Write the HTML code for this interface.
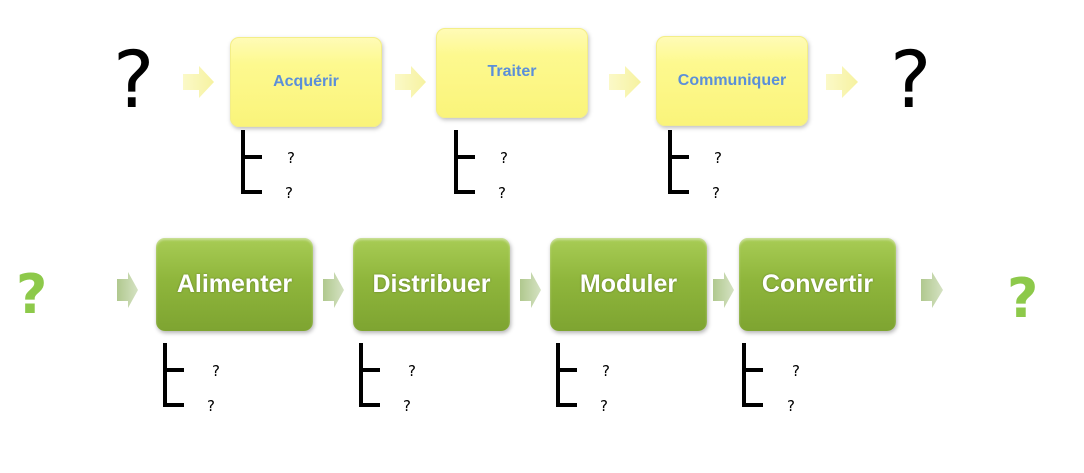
<!DOCTYPE html>
<html><head><meta charset="utf-8"><style>
body{margin:0;width:1084px;height:473px;background:#fff;position:relative;overflow:hidden;font-family:"DejaVu Sans","Liberation Sans",sans-serif}
.a{position:absolute}
.y{position:absolute;width:152px;height:90px;border-radius:9px;background:linear-gradient(#fffbb8,#fdf98f 30%,#faf47a);box-shadow:1px 2px 4px rgba(0,0,0,.25), inset 0 0 0 1px #f3ee88;display:flex;align-items:center;justify-content:center;color:#5b8fd9;font-weight:bold;font-size:16px;font-family:"Liberation Sans",sans-serif}
.g{position:absolute;width:157px;height:93px;border-radius:9px;background:linear-gradient(#a8cc55,#8fb63c 45%,#7ea431);box-shadow:1px 2px 4px rgba(0,0,0,.3), inset 0 2px 2px rgba(255,255,255,.4);display:flex;align-items:center;justify-content:center;color:#fff;font-weight:bold;font-size:25px;font-family:"Liberation Sans",sans-serif;text-shadow:0 0 2px rgba(0,0,0,.3)}
.bv{position:absolute;width:4px;background:#000}
.bh{position:absolute;height:4px;width:21px;background:#000}
.q{position:absolute;font-family:"DejaVu Sans",sans-serif;font-size:15px;color:#000;line-height:1}
</style></head><body>
<div class="a" style="left:113px;top:42px;font-size:78px;font-family:'DejaVu Sans',sans-serif;line-height:1">?</div>
<div class="a" style="left:890px;top:42px;font-size:78px;font-family:'DejaVu Sans',sans-serif;line-height:1">?</div>
<svg class="a" style="left:0;top:0" width="1084" height="473">
<defs>
<linearGradient id="ya" x1="0" x2="1"><stop offset="0" stop-color="#fbf9c8"/><stop offset="1" stop-color="#f6f2a0"/></linearGradient>
<linearGradient id="ga" x1="0" x2="1"><stop offset="0" stop-color="#b0c88e"/><stop offset="1" stop-color="#d5e2c3"/></linearGradient>
</defs>
<g fill="url(#ya)">
<polygon points="183,74 199,74 199,66 214,82 199,98 199,90 183,90"/>
<polygon points="395,74 411,74 411,66 426,82 411,98 411,90 395,90"/>
<polygon points="609,74 625,74 625,66 641,82 625,98 625,90 609,90"/>
<polygon points="826,74 842,74 842,66 858,82 842,98 842,90 826,90"/>
</g>
<g fill="url(#ga)">
<polygon points="117,279 128,279 128,272 138,290 128,308 128,301 117,301"/>
<polygon points="323,279 334,279 334,272 344,290 334,308 334,301 323,301"/>
<polygon points="520,279 531,279 531,272 541,290 531,308 531,301 520,301"/>
<polygon points="713,279 724,279 724,272 734,290 724,308 724,301 713,301"/>
<polygon points="921,279 932,279 932,272 943,290 932,308 932,301 921,301"/>
</g>
</svg>
<div class="y" style="left:230px;top:37px">Acquérir</div>
<div class="y" style="left:436px;top:28px;align-items:flex-start"><span style="margin-top:35px">Traiter</span></div>
<div class="y" style="left:656px;top:36px">Communiquer</div>

<div class="bv" style="left:241px;top:130px;height:64px"></div><div class="bh" style="left:241px;top:155px"></div><div class="bh" style="left:241px;top:190px"></div>
<div class="q" style="left:287px;top:151px">?</div><div class="q" style="left:285px;top:186px">?</div>
<div class="bv" style="left:454px;top:130px;height:64px"></div><div class="bh" style="left:454px;top:155px"></div><div class="bh" style="left:454px;top:190px"></div>
<div class="q" style="left:500px;top:151px">?</div><div class="q" style="left:498px;top:186px">?</div>
<div class="bv" style="left:668px;top:130px;height:64px"></div><div class="bh" style="left:668px;top:155px"></div><div class="bh" style="left:668px;top:190px"></div>
<div class="q" style="left:714px;top:151px">?</div><div class="q" style="left:712px;top:186px">?</div>

<div class="a" style="left:16px;top:268px;font-size:54px;font-weight:bold;color:#8dc94a;line-height:1">?</div>
<div class="a" style="left:1007px;top:272px;font-size:54px;font-weight:bold;color:#8dc94a;line-height:1">?</div>
<div class="g" style="left:156px;top:238px">Alimenter</div>
<div class="g" style="left:353px;top:238px">Distribuer</div>
<div class="g" style="left:550px;top:238px">Moduler</div>
<div class="g" style="left:739px;top:238px">Convertir</div>

<div class="bv" style="left:163px;top:343px;height:64px"></div><div class="bh" style="left:163px;top:368px"></div><div class="bh" style="left:163px;top:403px"></div>
<div class="q" style="left:212px;top:364px">?</div><div class="q" style="left:207px;top:399px">?</div>
<div class="bv" style="left:359px;top:343px;height:64px"></div><div class="bh" style="left:359px;top:368px"></div><div class="bh" style="left:359px;top:403px"></div>
<div class="q" style="left:408px;top:364px">?</div><div class="q" style="left:403px;top:399px">?</div>
<div class="bv" style="left:556px;top:343px;height:64px"></div><div class="bh" style="left:556px;top:368px"></div><div class="bh" style="left:556px;top:403px"></div>
<div class="q" style="left:602px;top:364px">?</div><div class="q" style="left:600px;top:399px">?</div>
<div class="bv" style="left:742px;top:343px;height:64px"></div><div class="bh" style="left:742px;top:368px"></div><div class="bh" style="left:742px;top:403px"></div>
<div class="q" style="left:792px;top:364px">?</div><div class="q" style="left:787px;top:399px">?</div>
</body></html>
